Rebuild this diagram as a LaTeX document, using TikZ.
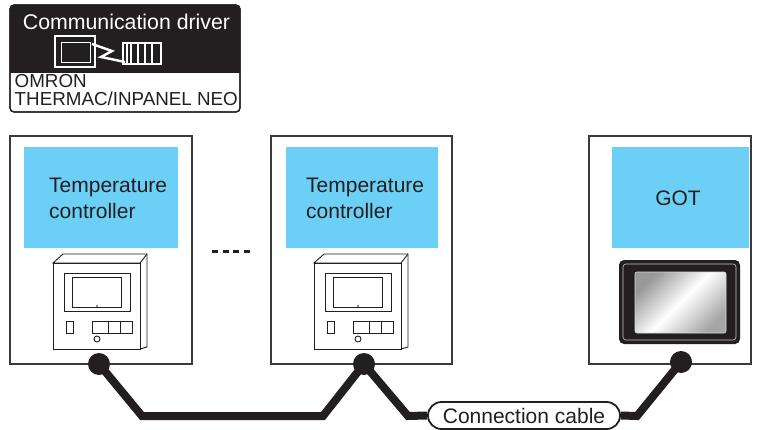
\documentclass[tikz,border=0pt]{standalone}
\usepackage{fontspec}
\setmainfont{Liberation Sans}
\definecolor{ink}{HTML}{231F20}
\definecolor{panel}{HTML}{6CCFF6}
\definecolor{frameline}{HTML}{3A3A3A}
\tikzset{
  unitbox/.style={draw=frameline, line width=1.4pt, fill=white},
  namebox/.style={fill=panel, draw=none},
  cablestyle/.style={draw=ink, line width=8pt, line join=miter},
  junction/.style={circle, fill=ink, minimum size=22pt, inner sep=0pt},
  bigtext/.style={text=ink, font=\fontsize{21}{25.5}\selectfont, inner sep=0pt},
  devline/.style={draw=ink, line width=0.9pt},
  ctrl/.pic={
    % cabinet with top and right faces
    \draw[devline, fill=white] (0,0) -- (10,-9) -- (94,-9) -- (94,84) -- (87,86) -- (87,0) -- cycle;
    \draw[devline] (87,0) -- (94,-9);
    \draw[devline, fill=white] (0,0) rectangle (87,86);
    % display
    \draw[devline] (11,10) rectangle (77,48);
    \draw[devline] (19,14) rectangle (68,44);
    \fill[ink] (44,43) circle (0.9pt);
    % keys and lamp
    \draw[devline] (13,58) rectangle (20,70);
    \draw[devline] (39,58) rectangle (79,70);
    \draw[devline] (55,58) -- (55,70);
    \draw[devline] (67,58) -- (67,70);
    \draw[devline] (44,76) circle (3pt);
  }
}
\begin{document}
\begin{tikzpicture}[x=1pt, y=-1pt]
\useasboundingbox (0,0) rectangle (762,430);

% communication driver badge
\draw[ink, line width=1.2pt, fill=white, rounded corners=4pt] (10,5) rectangle (240,112);
\fill[ink, rounded corners=4pt] (10,5) -- (240,5) -- (240,73) -- (10,73) -- cycle;
\fill[ink] (10,60) rectangle (240,73);
\draw[ink, line width=1.2pt, rounded corners=4pt] (10,5) rectangle (240,112);
\node[anchor=base, text=white, font=\fontsize{21.3}{24}\selectfont, inner sep=0pt] (drvtitle) at (126.5,29.5) {Communication driver};
% driver icon: monitor, link, rack
\draw[white, line width=1.8pt] (55,36) rectangle (95,67);
\draw[white, line width=0.9pt] (61,42) rectangle (90,62);
\draw[white, line width=2.4pt, line join=miter] (92,44) -- (112,51) -- (101,57) -- (125,62);
\draw[white, line width=1.6pt] (123,43) rectangle (161,64);
\foreach \bx in {127,131,138,145,152} {\draw[white, line width=1.2pt] (\bx,43) -- (\bx,64);}
\node[anchor=base west, text=ink, font=\fontsize{18.8}{18}\selectfont, inner sep=0pt] (maker) at (14.5,88) {OMRON};
\node[anchor=base west, text=ink, font=\fontsize{18.8}{18}\selectfont, inner sep=0pt] (series) at (14.5,106) {THERMAC/INPANEL NEO};

% stations
\draw[unitbox] (10,136) rectangle (192,364);
\draw[unitbox] (271,136) rectangle (452,364);
\draw[unitbox] (589,136) rectangle (751,364);

\fill[namebox] (24,147) rectangle (178,248);
\fill[namebox] (286,147) rectangle (438,248);
\fill[namebox] (612,147) rectangle (749,248);

\node[bigtext, align=left, anchor=base west] (tc1) at (49,218.5) {Temperature\\controller};
\node[bigtext, align=left, anchor=base west] (tc2) at (306,218.5) {Temperature\\controller};
\node[bigtext, anchor=base] (got) at (678,206) {GOT};

% more controllers in between
\draw[ink, line width=3pt, dash pattern=on 6pt off 4.7pt] (212,251) -- (250,251);

% devices
\pic at (53,263) {ctrl};
\pic at (314,263) {ctrl};

% GOT unit
\fill[ink, rounded corners=5pt] (619,260) rectangle (740,344);
\draw[gray!45, line width=0.6pt, rounded corners=3pt] (623,264) rectangle (736,340);
\shade[rounded corners=2pt, top color=gray!80, bottom color=gray!70, middle color=white, shading angle=45]
  (635,272) rectangle (726,333);
\draw[gray!30, line width=0.6pt, rounded corners=2pt] (635,272) rectangle (726,333);

% cable
\coordinate (j1) at (99,364);
\coordinate (j2) at (364,364);
\coordinate (j3) at (681,362);
\node[draw=ink, line width=1.8pt, fill=white, rounded corners=13.5pt, minimum width=192pt, minimum height=27pt,
      text=ink, font=\fontsize{21}{25}\selectfont, inner sep=0pt] (cable) at (524,415.5) {Connection cable};
\coordinate (b1) at (142,416);
\coordinate (b2) at (323,416);
\coordinate (b3) at (408,416);
\coordinate (b4) at (637,416);
\draw[cablestyle] (j1) -- (b1) -- (b2) -- (j2) -- (b3) -- (cable.west);
\draw[cablestyle] (cable.east) -- (b4) -- (j3);
\node[junction] (dot1) at (j1) {};
\node[junction] (dot2) at (j2) {};
\node[junction] (dot3) at (j3) {};
\end{tikzpicture}
\end{document}
